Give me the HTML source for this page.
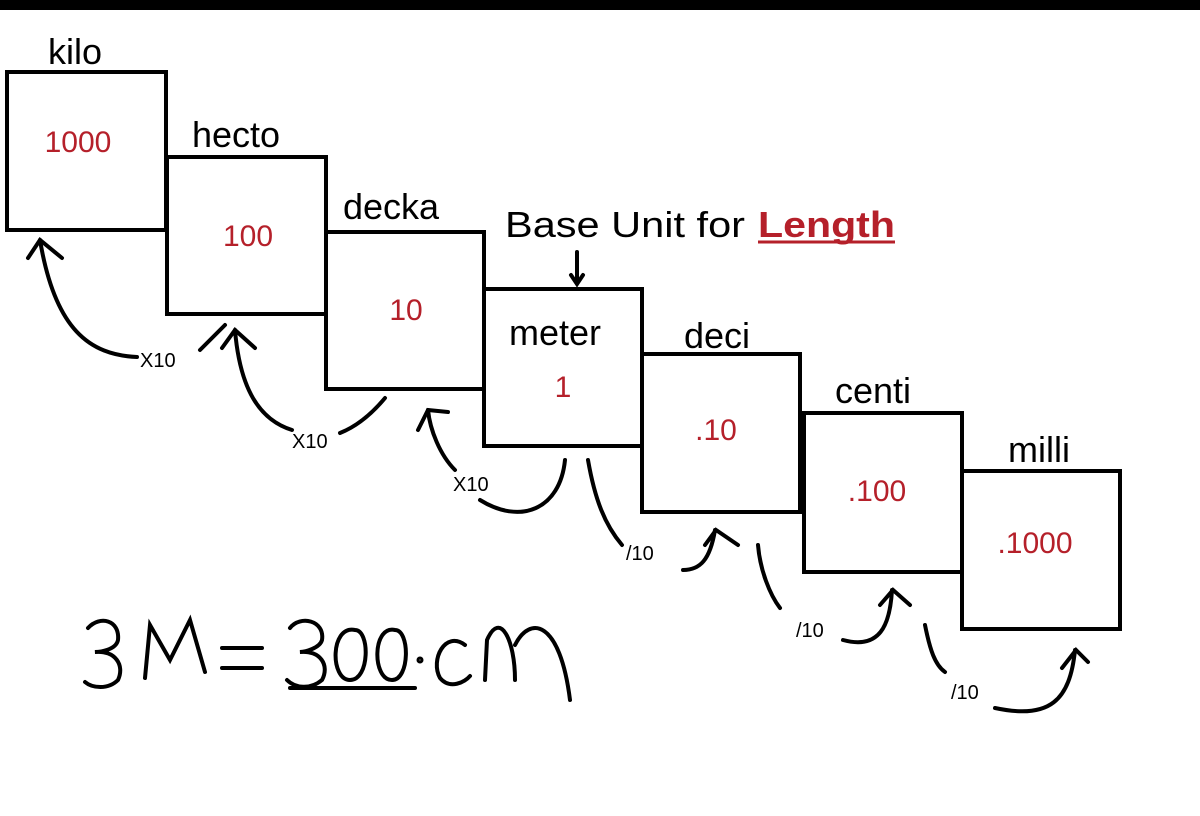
<!DOCTYPE html>
<html><head><style>
body{margin:0;width:1200px;height:811px;background:#fff;overflow:hidden;font-family:"Liberation Sans",sans-serif}
</style></head><body>
<svg width="1200" height="811" xmlns="http://www.w3.org/2000/svg" font-family="Liberation Sans, sans-serif">
<rect x="0" y="0" width="1200" height="10" fill="#000"/>
<g fill="none" stroke="#000" stroke-width="4">
<rect x="7" y="72" width="159" height="158"/>
<rect x="167" y="157" width="159" height="157"/>
<rect x="326" y="232" width="158" height="157"/>
<rect x="484" y="289" width="158" height="157"/>
<rect x="642" y="354" width="158" height="158"/>
<rect x="804" y="413" width="158" height="159"/>
<rect x="962" y="471" width="158" height="158"/>
</g>
<g font-size="36" fill="#000">
<text x="48" y="64">kilo</text>
<text x="192" y="147">hecto</text>
<text x="343" y="219">decka</text>
<text x="509" y="345">meter</text>
<text x="684" y="348">deci</text>
<text x="835" y="403">centi</text>
<text x="1008" y="462">milli</text>
<text x="505" y="237" textLength="240" lengthAdjust="spacingAndGlyphs">Base Unit for</text>
<text x="758" y="237" fill="#b5202a" font-weight="bold" textLength="137" lengthAdjust="spacingAndGlyphs">Length</text>
</g>
<line x1="758" y1="242" x2="895" y2="242" stroke="#b5202a" stroke-width="3"/>
<g font-size="30" fill="#b5202a" text-anchor="middle">
<text x="78" y="152">1000</text>
<text x="248" y="246">100</text>
<text x="406" y="320">10</text>
<text x="563" y="397">1</text>
<text x="716" y="440">.10</text>
<text x="877" y="501">.100</text>
<text x="1035" y="553">.1000</text>
</g>
<g font-size="20" fill="#000">
<text x="140" y="367">X10</text>
<text x="292" y="448">X10</text>
<text x="453" y="491">X10</text>
<text x="626" y="560">/10</text>
<text x="796" y="637">/10</text>
<text x="951" y="699">/10</text>
</g>
<g fill="none" stroke="#000" stroke-width="4" stroke-linecap="round">
<path d="M577 252 L577 282"/><path d="M571 275 L577 284 L583 275"/>
<path d="M137 357 C90 355 55 330 40 240"/><path d="M28 258 L40 240 L62 258"/>
<path d="M200 350 C210 340 220 330 225 325"/>
<path d="M292 430 C260 420 240 390 235 330"/><path d="M222 348 L235 330 L255 348"/>
<path d="M340 433 C360 425 375 410 385 398"/>
<path d="M455 470 C440 455 430 430 428 410"/><path d="M418 430 L428 410 L448 412"/>
<path d="M480 500 C520 525 560 510 565 460"/>
<path d="M588 460 C595 500 605 525 622 545"/>
<path d="M683 570 C700 570 710 560 715 530"/><path d="M705 545 L716 530 L738 545"/>
<path d="M758 545 C760 570 770 595 780 608"/>
<path d="M843 640 C880 650 890 625 892 590"/><path d="M880 605 L893 590 L910 605"/>
<path d="M925 625 C930 650 935 665 945 672"/>
<path d="M995 708 C1050 720 1070 700 1075 650"/><path d="M1062 668 L1076 650 L1088 662"/>
<path d="M88 628 C100 615 120 620 118 640 C116 650 100 652 95 652 C115 650 125 665 118 680 C108 690 92 688 85 682"/>
<path d="M145 678 L150 625 L170 660 L190 620 L205 672"/>
<path d="M222 648 L262 648 M222 668 L262 668"/>
<path d="M290 628 C300 615 325 620 322 640 C320 648 305 652 300 652 C320 650 330 665 322 680 C310 690 295 688 287 680"/>
<path d="M355 630 C330 625 330 680 350 680 C370 680 370 630 355 630"/>
<path d="M395 630 C372 625 372 680 392 680 C410 680 410 630 395 630"/>
<path d="M290 688 L415 688"/>
<circle cx="420" cy="660" r="1.5"/>
<path d="M465 645 C445 630 430 660 440 678 C450 690 465 682 470 676"/>
<path d="M485 680 L487 640 C500 610 515 640 515 680 M515 645 C530 615 560 620 570 700"/>
</g>
</svg>
</body></html>
